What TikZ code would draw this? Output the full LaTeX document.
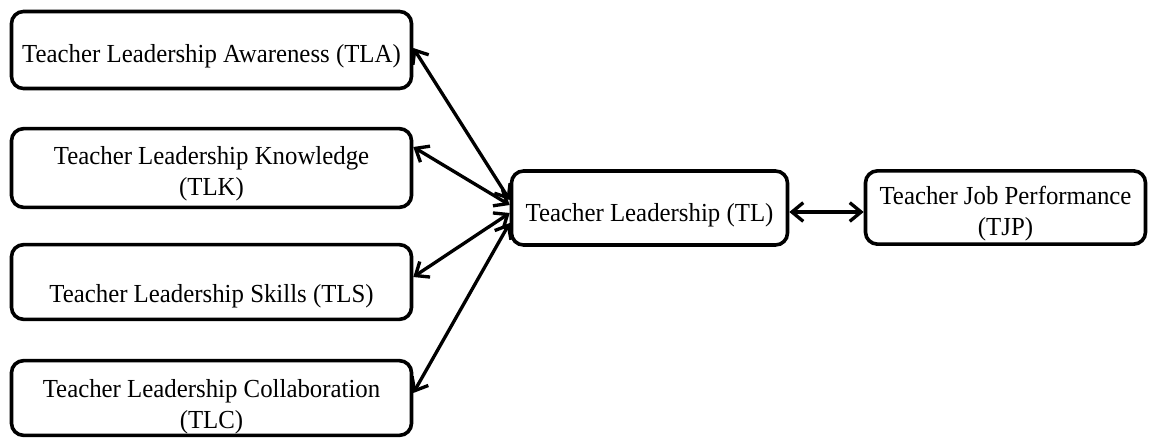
\documentclass[tikz,border=0pt]{standalone}
\usepackage{fontspec}
\setmainfont{Liberation Serif}[FakeStretch=0.955]
\usetikzlibrary{arrows.meta}
\begin{document}
\begin{tikzpicture}[x=0.75pt,y=-0.75pt,
 box/.style={draw, line width=2.7pt, rounded corners=9pt, inner sep=0pt},
 txt/.style={align=center, inner sep=0pt, font=\fontsize{19.5}{23}\selectfont},
 link/.style={{Straight Barb[length=8.5pt,width=14pt]}-{Straight Barb[length=8.5pt,width=14pt]}, line width=2.5pt}]
\useasboundingbox (0,0) rectangle (1152,439);
\node[box, minimum width=300pt, minimum height=57.75pt,
  label={[txt,yshift=-4.5pt]center:Teacher Leadership Awareness (TLA)}] (tla) at (211.5,50) {};
\node[box, minimum width=300pt, minimum height=59pt,
  label={[txt,yshift=-4.5pt]center:Teacher Leadership Knowledge\\(TLK)}] (tlk) at (211.5,168) {};
\node[box, minimum width=300pt, minimum height=56pt,
  label={[txt,yshift=-10.5pt]center:Teacher Leadership Skills (TLS)}] (tls) at (211.5,282) {};
\node[box, minimum width=300pt, minimum height=56pt,
  label={[txt,yshift=-6.4pt]center:Teacher Leadership Collaboration\\(TLC)}] (tlc) at (211.5,398) {};
\node[box, minimum width=207pt, minimum height=55.5pt,
  label={[txt,yshift=-5.25pt]center:Teacher Leadership (TL)}] (tl) at (649.5,208) {};
\node[box, minimum width=210pt, minimum height=55pt,
  label={[txt,yshift=-4.5pt]center:Teacher Job Performance\\(TJP)}] (tjp) at (1005.5,207.5) {};
\draw[link] ([yshift=1.5pt]tla.east) -- ([yshift=6pt]tl.west);
\draw[link] ([yshift=15.75pt]tlk.east) -- ([yshift=2.25pt]tl.west);
\draw[link] ([yshift=3.75pt]tls.east) -- ([yshift=-3.75pt]tl.west);
\draw[link] ([yshift=3.75pt]tlc.east) -- ([yshift=-11.25pt]tl.west);
\coordinate (tlr) at ([yshift=-3pt]tl.east);
\draw[link] (tlr) -- (tjp.west |- tlr);
\end{tikzpicture}
\end{document}
